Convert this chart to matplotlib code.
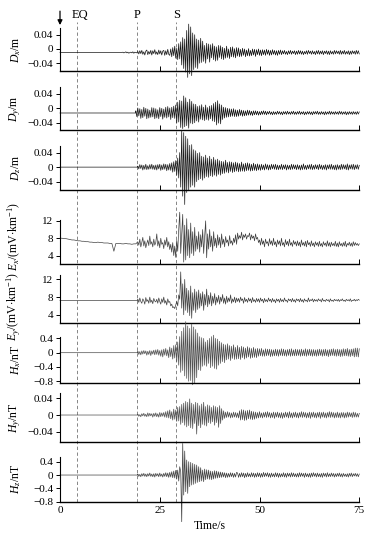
import numpy as np
import matplotlib
matplotlib.use('Agg')
import matplotlib.pyplot as plt

plt.rcParams['font.family'] = 'Liberation Serif'
plt.rcParams['mathtext.fontset'] = 'custom'
plt.rcParams['mathtext.rm'] = 'Liberation Serif'
plt.rcParams['mathtext.it'] = 'Liberation Serif:italic'

# arrival times (s)
t_eq, t_p, t_s = 4.2, 19.4, 29.1
dt = 0.25  # sample step of the hand-read traces, one row = 5 s

# Dx, mm deviation from baseline -0.010 m, starts at 15.5 s
dx = [0, 1, -1, 0, 2, -1, 1, -2, 0, 1, -1, 2, -2, 1, 0, -1, 3, -4, 5, -3,
      6, -5, 2, -7, 4, 7, -6, 3, -4, 6, -7, 5, -3, 8, -5, 2, -6, 7, -4, 5,
      -7, 4, 6, -8, 5, -6, 9, -5, -8, 10, -12, 14, -9, 18, -16, 12, -20, 25, -18, 30,
      -35, 42, -45, 38, -55, 62, -70, 80, -60, 72, -65, 55, -48, 50, -42, 38, -45, 35, -30, 40,
      -28, 32, -25, 20, -30, 26, -18, 24, -27, 22, -15, 25, -20, 18, -24, 16, -22, 20, -14, 19,
      -18, 15, -20, 12, -16, 18, -14, 10, -17, 15, -12, 16, -13, 11, -15, 14, -10, 13, -12, 9,
      -11, 12, -8, 10, -12, 7, -9, 11, -10, 6, -9, 10, -7, 9, -11, 8, -6, 10, -8, 7,
      -9, 8, -6, 7, -8, 9, -5, 7, -8, 6, -7, 8, -5, 6, -7, 5, -8, 6, -5, 7,
      -6, 5, -4, 6, -5, 3, -6, 5, -4, 6, -5, 4, -3, 5, -6, 4, -5, 6, -4, 5,
      -5, 4, -6, 3, -4, 5, -5, 6, -3, 4, -5, 5, -4, 3, -6, 5, -4, 6, -5, 4,
      -4, 5, -6, 4, -3, 5, -5, 4, -6, 5, -4, 3, -5, 6, -4, 5, -3, 4, -5, 6,
      -5, 4, -4, 6, -5, 3, -4, 5, -6, 4, -5, 5, -3, 4, -5, 6, -4, 5, -4]

# Dy, mm deviation from baseline -0.013 m, starts at 19 s
dy = [6, -10, 14, -8, 12, -15, 10, -13, 16, -9, 13, -16, 11, -14, 8, -12, 15, -11, 14, -16,
      12, -14, 9, -16, 15, -10, 13, -17, 11, -12, 16, -14, 18, -11, 14, -18, 16, -13, 19, -15,
      22, -28, 30, -25, 35, -40, 33, -43, 47, -38, 42, -35, 30, -42, 38, -28, 32, -30, 25, -27,
      24, -22, 18, -25, 20, -17, 23, -19, 16, -21, 22, -18, 15, -20, 19, -16, 21, -22, 26, -24,
      30, -33, 34, -28, 25, -30, 22, -18, 16, -14, 15, -12, 13, -11, 12, -10, 11, -9, 12, -10,
      9, -10, 8, -9, 10, -7, 8, -9, 7, -8, 6, -7, 8, -6, 7, -6, 5, -7, 6, -5,
      6, -5, 5, -6, 4, -5, 5, -4, 6, -4, 5, -5, 4, -3, 5, -4, 3, -5, 4, -4,
      3, -4, 5, -3, 4, -4, 3, -5, 4, -3, 4, -4, 5, -3, 3, -4, 4, -3, 5, -4,
      3, -4, 4, -3, 5, -4, 3, -3, 4, -5, 3, -4, 4, -3, 4, -4, 3, -5, 4, -3,
      4, -3, 5, -4, 3, -4, 4, -3, 3, -5, 4, -4, 3, -3, 5, -4, 4, -3, 3, -4,
      4, -3, 3, -4, 5, -3, 4, -4, 3, -3, 4, -5, 3, -4, 4, -3, 3, -4, 4, -3,
      3, -4, 4, -3, 3]

# Dz, mm, starts at 19.5 s
dz = [3, -5, 7, -4, 6, -8, 5, -6, 8, -7, 4, -6, 7, -5, 8, -6, 5, -7, 6, -8,
      7, -5, 8, -9, 6, -7, 9, -6, 8, -10, 7, -8, 10, -9, 12, -14, 15, -12, 18, -22,
      25, -30, 40, -55, 100, -80, 95, -103, 85, -70, 78, -65, 60, -55, 62, -50, 48, -55, 45, -40,
      38, -35, 40, -32, 30, -36, 28, -30, 33, -26, 25, -28, 30, -24, 22, -26, 27, -22, 20, -25,
      22, -20, 18, -22, 16, -18, 15, -17, 19, -14, 13, -16, 15, -12, 14, -15, 12, -13, 14, -11,
      12, -13, 10, -12, 14, -11, 9, -12, 11, -10, 12, -9, 10, -11, 8, -10, 11, -9, 8, -10,
      9, -8, 7, -9, 8, -7, 6, -8, 9, -6, 7, -8, 6, -7, 8, -5, 7, -6, 8, -7,
      6, -7, 5, -6, 8, -7, 6, -5, 7, -8, 6, -6, 5, -7, 8, -6, 7, -5, 6, -7,
      7, -6, 5, -8, 6, -7, 9, -6, 5, -7, 6, -5, 7, -6, 8, -7, 5, -6, 7, -5,
      6, -7, 8, -5, 6, -7, 5, -6, 7, -8, 6, -5, 7, -6, 8, -6, 5, -7, 6, -8,
      7, -6, 5, -7, 8, -6, 7, -5, 6, -7, 9, -8, 6, -5, 7, -6, 8, -7, 6, -5,
      7, -6, 5]

# Ex, 0.1 mV/km: quiet part 0-19 s every 0.5 s, then from 19.5 s every 0.25 s
ex_pre = [80, 80, 79, 79, 78, 77, 76, 76, 75, 74, 74, 73, 73, 72, 72, 71, 71, 70, 70, 71,
          70, 70, 69, 69, 69, 68, 68, 50, 68, 68, 68, 67, 67, 68, 67, 67, 66, 67, 67]
ex = [72, 64, 78, 60, 70, 82, 62, 74, 58, 68, 76, 63, 85, 66, 72, 60, 78, 64, 70, 90,
      62, 74, 58, 80, 66, 70, 56, 76, 64, 82, 60, 72, 54, 66, 48, 70, 40, 62, 36, 75,
      50, 100, 140, 45, 90, 135, 25, 110, 30, 125, 40, 100, 35, 115, 45, 95, 40, 105, 50, 85,
      55, 95, 48, 88, 60, 100, 45, 85, 120, 35, 90, 55, 100, 60, 85, 50, 95, 62, 80, 58,
      88, 64, 82, 58, 90, 66, 78, 60, 84, 70, 76, 62, 86, 68, 74, 64, 80, 70, 88, 66,
      92, 78, 86, 80, 94, 76, 88, 82, 90, 78, 86, 84, 92, 76, 88, 80, 85, 74, 90, 78,
      82, 70, 76, 64, 80, 66, 74, 60, 78, 68, 72, 62, 79, 66, 74, 63, 80, 65, 72, 60,
      76, 66, 74, 62, 80, 64, 70, 60, 77, 65, 73, 62, 78, 64, 70, 61, 75, 66, 72, 62,
      74, 63, 71, 60, 76, 64, 70, 62, 73, 60, 75, 65, 70, 61, 74, 63, 69, 60, 72, 64,
      70, 61, 73, 62, 68, 60, 72, 64, 69, 61, 74, 62, 70, 60, 71, 63, 68, 62, 73, 61,
      69, 60, 72, 63, 68, 61, 70, 62, 73, 60, 68, 64, 71, 62, 69, 61, 72, 63, 70, 64,
      68, 63, 67]

# Ey, 0.1 mV/km, starts at 19.5 s (7.25 before)
ey = [75, 68, 78, 70, 66, 76, 72, 64, 79, 70, 74, 66, 80, 68, 73, 65, 77, 71, 69, 75,
      66, 78, 70, 64, 76, 68, 80, 66, 72, 62, 76, 68, 70, 60, 64, 56, 58, 54, 62, 70,
      60, 85, 75, 137, 55, 110, 40, 120, 50, 100, 45, 95, 38, 105, 32, 90, 50, 98, 45, 92,
      52, 96, 55, 88, 60, 92, 50, 86, 62, 98, 58, 84, 64, 90, 60, 82, 66, 88, 62, 80,
      68, 84, 64, 80, 70, 86, 66, 78, 64, 82, 68, 78, 70, 85, 66, 76, 69, 80, 67, 78,
      70, 77, 68, 80, 72, 76, 66, 79, 70, 75, 68, 78, 71, 76, 67, 79, 70, 74, 68, 77,
      70, 76, 68, 78, 71, 75, 67, 77, 70, 74, 69, 78, 71, 75, 68, 77, 70, 74, 67, 76,
      71, 75, 68, 77, 70, 74, 69, 78, 71, 73, 68, 76, 72, 75, 69, 77, 70, 74, 68, 76,
      72, 75, 69, 77, 70, 74, 68, 76, 71, 73, 69, 78, 70, 74, 72, 76, 69, 75, 71, 74,
      70, 76, 72, 74, 69, 77, 71, 73, 70, 75, 72, 74, 69, 76, 71, 73, 70, 75, 72, 74,
      71, 75, 70, 74, 72, 76, 71, 73, 70, 75, 72, 74, 71, 76, 70, 73, 72, 75, 71, 74,
      72, 75, 73]

# Hx, 0.01 nT, starts at 19.5 s
hx = [4, -5, 3, -6, 5, -4, 6, -3, 5, -7, 4, -5, 6, -8, 5, -4, 7, -6, 8, -5,
      9, -7, 6, -10, 8, -12, 10, -7, 12, -9, 8, -14, 16, -11, 13, -18, 20, -15, 22, -25,
      30, -35, 45, -55, 60, -50, 70, -65, 87, -72, 75, -80, 68, -78, 80, -90, 72, -85, 65, -70,
      55, -48, 45, -50, 42, -38, 40, -35, 30, -38, 35, -30, 40, -42, 45, -38, 49, -44, 40, -46,
      38, -35, 32, -30, 28, -25, 24, -28, 22, -20, 25, -18, 20, -22, 18, -16, 22, -19, 15, -18,
      20, -17, 15, -19, 18, -14, 16, -18, 13, -15, 17, -12, 14, -16, 12, -14, 15, -13, 11, -14,
      12, -10, 11, -9, 12, -10, 8, -10, 11, -9, 10, -8, 10, -11, 9, -10, 8, -9, 10, -9,
      9, -10, 9, -8, 11, -9, 10, -9, 8, -10, 9, -8, 10, -10, 11, -9, 8, -9, 10, -9,
      9, -8, 9, -10, 10, -9, 8, -9, 11, -10, 9, -8, 10, -9, 9, -10, 9, -9, 8, -10,
      9, -9, 10, -8, 9, -10, 9, -9, 10, -9, 8, -11, 9, -9, 10, -8, 11, -9, 9, -10,
      10, -9, 9, -11, 9, -10, 11, -9, 10, -9, 12, -10, 9, -11, 10, -9, 11, -12, 13, -11,
      13, -12, 11]

# Hy, 0.001 nT, starts at 19.5 s
hy = [2, -3, 1, -4, 3, -2, 4, -3, 2, -4, 5, -3, 4, -2, 3, -5, 4, -3, 5, -4,
      3, -5, 6, -4, 5, -3, 6, -5, 8, -6, 10, -7, 12, -9, 8, -12, 14, -10, 12, -15,
      18, -14, 20, -22, 25, -18, 28, -24, 32, -28, 30, -25, 38, -30, 28, -32, 25, -20, 30, -45,
      28, -25, 22, -30, 26, -22, 30, -24, 20, -26, 24, -18, 22, -20, 18, -16, 22, -24, 20, -18,
      18, -29, 22, -20, 15, -12, 10, -8, 7, -6, 8, -5, 6, -7, 5, -6, 7, -5, 6, -6,
      5, -7, 10, -12, 13, -11, 12, -13, 10, -12, 11, -9, 12, -10, 9, -11, 8, -10, 7, -8,
      6, -7, 8, -6, 5, -7, 6, -5, 7, -6, 8, -5, 6, -7, 5, -6, 7, -8, 6, -5,
      7, -6, 5, -7, 6, -8, 5, -6, 7, -5, 6, -7, 8, -6, 5, -7, 6, -5, 7, -6,
      5, -7, 6, -5, 8, -6, 7, -5, 6, -7, 5, -6, 7, -8, 6, -5, 7, -6, 5, -7,
      6, -5, 7, -8, 6, -5, 7, -6, 5, -7, 6, -5, 8, -6, 7, -5, 6, -7, 5, -6,
      7, -6, 5, -7, 6, -5, 6, -7, 5, -6, 7, -5, 6, -4, 5, -6, 7, -5, 6, -5,
      4, -5, 4]

# Hz, 0.01 nT, starts at 19.5 s
hz = [3, -4, 2, -5, 4, -3, 5, -4, 3, -5, 4, -3, 6, -4, 3, -5, 4, -6, 5, -3,
      4, -5, 6, -4, 3, -6, 5, -4, 7, -5, 6, -7, 8, -6, 10, -8, 12, -9, 14, -12,
      15, -18, 25, 10, -140, 95, -60, 72, -50, 45, -55, 40, -35, 38, -30, 35, -28, 32, -25, 30,
      -22, 25, -20, 22, -18, 15, -20, 18, -14, 16, -12, 15, -13, 12, -14, 11, -12, 13, -10, 12,
      -9, 10, -8, 9, -7, 8, -6, 7, -8, 6, -7, 5, -6, 7, -5, 6, -7, 5, -6, 8,
      6, -7, 5, -6, 7, -5, 6, -8, 5, -6, 7, -5, 4, -6, 7, -5, 6, -7, 5, -6,
      7, -5, 6, -7, 5, -6, 8, -5, 6, -4, 7, -6, 5, -7, 6, -5, 4, -6, 7, -5,
      6, -7, 5, -6, 4, -5, 7, -6, 5, -7, 6, -4, 5, -6, 7, -5, 6, -5, 4, -6,
      5, -6, 7, -5, 6, -4, 5, -7, 6, -5, 4, -6, 5, -7, 6, -5, 7, -4, 5, -6,
      6, -5, 4, -6, 5, -7, 6, -4, 5, -6, 7, -5, 4, -5, 6, -4, 5, -6, 4, -5,
      5, -4, 6, -5, 4, -6, 5, -4, 3, -5, 4, -6, 5, -4, 6, -5, 4, -3, 5, -4,
      4, -5, 3]

M = '\u2212'
labels = [r'$D_x$/m', r'$D_y$/m', r'$D_z$/m',
          r'$E_x$/(mV$\cdot$km$^{-1}$)', r'$E_y$/(mV$\cdot$km$^{-1}$)',
          r'$H_x$/nT', r'$H_y$/nT', r'$H_z$/nT']
label_y = [0.5, 0.5, 0.5, 0.62, 0.33, 0.5, 0.5, 0.5]
series = [dx, dy, dz, ex, ey, hx, hy, hz]
scales = [0.001, 0.001, 0.001, 0.1, 0.1, 0.01, 0.001, 0.01]
offsets = [-0.010, -0.013, 0.0, 0.0, 0.0, 0.0, 0.0, 0.0]
pre_level = [-0.010, -0.013, 0.0, None, 7.25, 0.0, 0.0, 0.0]
starts = [15.5, 19.0, 19.5, 19.5, 19.5, 19.5, 19.5, 19.5]
trace_colors = ['0.08', '0.08', '0.1', '0.25', '0.25', '0.3', '0.3', '0.25']
ylims = [(-0.062, 0.059), (-0.060, 0.058), (-0.063, 0.059), (2.06, 12.2),
         (2.2, 13.0), (-0.85, 0.44), (-0.063, 0.052), (-0.80, 0.55)]
ytick_vals = [[0.04, 0, -0.04], [0.04, 0, -0.04], [0.04, 0, -0.04], [12, 8, 4],
              [12, 8, 4], [0.4, 0, -0.4, -0.8], [0.04, 0, -0.04], [0.4, 0, -0.4, -0.8]]
ytick_txt = [['0.04', '0', M + '0.04']] * 3 + [['12', '8', '4']] * 2 + \
            [['0.4', '0', M + '0.4', M + '0.8'], ['0.04', '0', M + '0.04'],
             ['0.4', '0', M + '0.4', M + '0.8']]

# panel top / bottom in pixels from the top of the figure
tops = [28, 87.3, 145.7, 220, 275, 337, 393, 456.7]
bots = [71, 130, 190, 264, 322.7, 383, 441.7, 501.7]

W, H = 378, 545
x0, x1 = 60, 359.3
fig = plt.figure(figsize=(W / 100, H / 100), dpi=100)

# overlay for arrival-time markers
ov = fig.add_axes([x0 / W, 1 - 501.7 / H, (x1 - x0) / W, (501.7 - 21.7) / H])
ov.set_xlim(0, 75)
ov.set_ylim(0, 1)
ov.axis('off')
for t, name in [(t_eq, 'EQ'), (t_p, 'P'), (t_s, 'S')]:
    ov.axvline(t, color='0.45', lw=0.6, ls=(0, (4, 3)))
    ov.text(t + (0.8 if name == 'EQ' else 0), 1.014, name, ha='center', va='center', fontsize=9)
ov.annotate('', xy=(0, 0.993), xytext=(0, 1.022),
            arrowprops=dict(arrowstyle='-|>', color='k', lw=0.9,
                            mutation_scale=7, shrinkA=0, shrinkB=0),
            annotation_clip=False)

for i in range(8):
    ax = fig.add_axes([x0 / W, 1 - bots[i] / H, (x1 - x0) / W, (bots[i] - tops[i]) / H])
    ax.patch.set_visible(False)
    vals = np.array(series[i], dtype=float)
    t = starts[i] + dt * np.arange(len(vals))
    y = offsets[i] + vals * scales[i]
    keep = t <= 75
    t, y = t[keep], y[keep]
    if pre_level[i] is None:
        tp = 0.5 * np.arange(len(ex_pre))
        yp = np.array(ex_pre) * 0.1
    else:
        tp = np.array([0, starts[i]])
        yp = np.array([pre_level[i], pre_level[i]])
    ax.plot(np.concatenate([tp, t]), np.concatenate([yp, y]),
            color=trace_colors[i], lw=0.5, clip_on=False)
    ax.set_xlim(0, 75)
    ax.set_ylim(*ylims[i])
    ax.set_yticks(ytick_vals[i])
    ax.set_yticklabels(ytick_txt[i])
    ax.set_xticks([0, 25, 50, 75])
    for s in ['top', 'right']:
        ax.spines[s].set_visible(False)
    ax.spines['left'].set_linewidth(0.8)
    ax.spines['bottom'].set_linewidth(1.0)
    ax.tick_params(axis='y', direction='out', length=3, width=0.7, pad=2, labelsize=8)
    ax.tick_params(axis='x', direction='in', length=3.5, width=0.7, pad=3, labelsize=8)
    ax.set_ylabel(labels[i], fontsize=8.5)
    ax.yaxis.set_label_coords(-0.125, label_y[i])
    if i < 7:
        ax.set_xticklabels([])
    else:
        ax.set_xlabel('Time/s', fontsize=8.5, labelpad=4)

fig.savefig('out.png', dpi=100)
